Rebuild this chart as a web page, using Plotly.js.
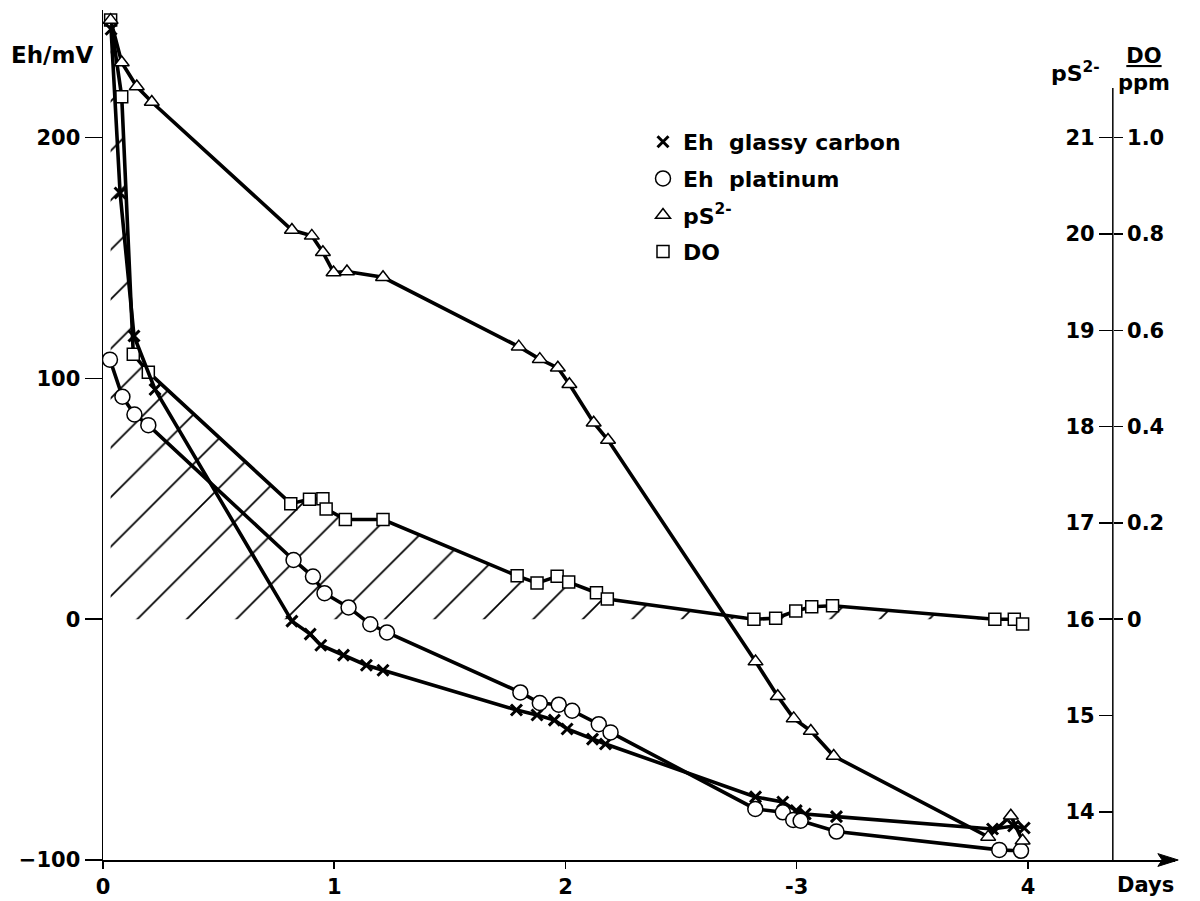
<!DOCTYPE html>
<html>
<head>
<meta charset="utf-8">
<script src="https://cdn.plot.ly/plotly-3.0.1.min.js"></script>
<style>html,body{margin:0;padding:0;background:#fff;}#chart{width:1200px;height:901px;}</style>
</head>
<body>
<div id="chart"></div>
<script>
// ---- data ----
const glassyDays = [0.035, 0.074, 0.134, 0.225, 0.817, 0.896, 0.942, 1.040, 1.139, 1.211, 1.788, 1.877, 1.952, 2.007, 2.117, 2.173, 2.822, 2.940, 2.998, 3.037, 3.172, 3.847, 3.938, 3.984];
const glassyEh   = [245, 177, 117.6, 95.4, -0.8, -6.2, -10.8, -14.9, -19.1, -21.2, -37.7, -39.8, -41.9, -45.6, -49.8, -51.8, -73.8, -75.9, -79.5, -80.9, -82.0, -87.1, -85.9, -86.7];

const platDays = [0.030, 0.084, 0.136, 0.196, 0.824, 0.908, 0.958, 1.062, 1.156, 1.228, 1.805, 1.889, 1.971, 2.029, 2.144, 2.195, 2.821, 2.940, 2.985, 3.017, 3.172, 3.876, 3.970];
const platEh   = [107.8, 92.4, 85.0, 80.6, 24.6, 17.7, 10.8, 4.9, -2.1, -5.5, -30.4, -34.8, -35.5, -38.0, -43.6, -47.0, -78.8, -80.2, -83.4, -83.7, -88.2, -95.8, -96.2];

const psDays = [0.033, 0.081, 0.146, 0.211, 0.817, 0.903, 0.951, 0.997, 1.055, 1.211, 1.798, 1.889, 1.967, 2.017, 2.122, 2.184, 2.822, 2.918, 2.987, 3.061, 3.160, 3.828, 3.926, 3.977];
const psVals = [22.22, 21.78, 21.53, 21.37, 20.04, 19.98, 19.81, 19.60, 19.61, 19.55, 18.83, 18.70, 18.61, 18.44, 18.04, 17.86, 15.56, 15.20, 14.97, 14.84, 14.58, 13.74, 13.96, 13.70];

const doDays = [0.033, 0.081, 0.131, 0.196, 0.812, 0.893, 0.951, 0.965, 1.048, 1.211, 1.791, 1.877, 1.964, 2.014, 2.134, 2.181, 2.815, 2.909, 2.996, 3.065, 3.155, 3.857, 3.941, 3.977];
const doVals = [1.244, 1.085, 0.550, 0.513, 0.240, 0.249, 0.250, 0.229, 0.207, 0.207, 0.090, 0.075, 0.089, 0.077, 0.055, 0.042, 0.0, 0.002, 0.017, 0.026, 0.028, 0.0, 0.0, -0.01];

const xTickVals = [0, 1, 2, 3, 4];
const xTickText = ['0', '1', '2', '-3', '4'];
const ehTicks = [-100, 0, 100, 200];
const psTicks = [14, 15, 16, 17, 18, 19, 20, 21];
const doTicks = [0, 0.2, 0.4, 0.6, 0.8, 1.0];
const doTickText = ['0', '0.2', '0.4', '0.6', '0.8', '1.0'];

const seriesNames = ['Eh\u00a0 glassy carbon', 'Eh\u00a0 platinum', 'pS<sup>2-</sup>', 'DO'];

// ---- styling ----
const FONT = 'DejaVu Sans';
const LW = 3.6;
const black = '#000';

const traces = [
  { x: doDays, y: doVals, yaxis: 'y', mode: 'lines', line: {color: black, width: LW},
    fill: 'tozeroy', fillcolor: 'rgba(0,0,0,0)',
    fillpattern: {shape: '/', size: 35, solidity: 0.05, fgcolor: black, bgcolor: 'rgba(0,0,0,0)', fillmode: 'replace'},
    showlegend: false, hoverinfo: 'skip' },
  { x: doDays, y: doVals, yaxis: 'y', mode: 'markers', name: seriesNames[3], legendrank: 4, legendgroup: 'd',
    marker: {symbol: 'square', size: 12, color: '#fff', line: {color: black, width: 1.5}} },
  { x: glassyDays, y: glassyEh, yaxis: 'y2', mode: 'lines', line: {color: black, width: LW}, showlegend: false },
  { x: platDays, y: platEh, yaxis: 'y2', mode: 'lines', line: {color: black, width: LW}, showlegend: false },
  { x: glassyDays, y: glassyEh, yaxis: 'y2', mode: 'markers', name: seriesNames[0], legendrank: 1, legendgroup: 'a',
    marker: {symbol: 'x-thin', size: 11, color: black, line: {color: black, width: 3}} },
  { x: platDays, y: platEh, yaxis: 'y2', mode: 'markers', name: seriesNames[1], legendrank: 2, legendgroup: 'b',
    marker: {symbol: 'circle', size: 15, color: '#fff', line: {color: black, width: 1.5}} },
  { x: psDays, y: psVals, yaxis: 'y3', mode: 'lines', line: {color: black, width: LW}, showlegend: false },
  { x: psDays, y: psVals, yaxis: 'y3', mode: 'markers', name: seriesNames[2], legendrank: 3, legendgroup: 'c',
    marker: {symbol: 'triangle-up', size: 13, color: '#fff', line: {color: black, width: 1.5}} }
];

const tickFont = {family: FONT, size: 21, color: black, weight: 'bold'};
const W = 1072, H = 850, L = 103, B = 41;
const px = v => (v - L) / W;
const py = v => (901 - B - v) / H;

const layout = {
  width: 1200, height: 901,
  margin: {l: L, r: 25, t: 10, b: B},
  paper_bgcolor: '#fff', plot_bgcolor: '#fff',
  font: {family: FONT, color: black},
  showlegend: true,
  legend: {x: px(643), y: py(121), xanchor: 'left', yanchor: 'top', bgcolor: 'rgba(0,0,0,0)',
           font: {family: FONT, size: 22, color: black, weight: 'bold'}, tracegroupgap: 5, itemwidth: 30},
  xaxis: {range: [0, 4.636], showline: true, linecolor: black, linewidth: 1.5, showgrid: false, zeroline: false,
          ticks: 'outside', ticklen: 7, tickwidth: 1.5, tickcolor: black,
          tickvals: xTickVals, ticktext: xTickText, tickfont: tickFont, anchor: 'y'},
  yaxis: {range: [-0.5, 1.265], anchor: 'free', position: 0.942, side: 'right', showline: false,
          showgrid: false, zeroline: false, ticks: 'outside', ticklen: 9, tickwidth: 1.5, tickcolor: black,
          tickvals: doTicks, ticktext: doTickText, tickfont: tickFont},
  yaxis2: {range: [-100, 253], overlaying: 'y', anchor: 'x', side: 'left', showline: true, linecolor: black,
           linewidth: 1.5, showgrid: false, zeroline: false, ticks: 'outside', ticklen: 17, tickwidth: 1.5,
           tickcolor: black, tickvals: ehTicks, tickfont: tickFont},
  yaxis3: {range: [13.5, 22.325], overlaying: 'y', anchor: 'free', position: 0.942, side: 'left', showline: false,
           showgrid: false, zeroline: false, ticks: 'outside', ticklen: 14, tickwidth: 1.5, tickcolor: black,
           tickvals: psTicks, tickfont: tickFont},
  shapes: [
    {type: 'line', xref: 'paper', yref: 'paper', x0: 0.942, x1: 0.942, y0: 0, y1: py(88), line: {color: black, width: 1.5}},
    {type: 'path', xref: 'paper', yref: 'paper', path: 'M 1.003 0 L 0.984 0.0075 L 0.988 0 L 0.984 -0.0075 Z',
     fillcolor: black, line: {color: black, width: 1}}
  ],
  annotations: [
    {xref: 'paper', yref: 'paper', x: px(52), y: py(55), text: 'Eh/mV', showarrow: false, xanchor: 'center', yanchor: 'middle',
     font: {family: FONT, size: 23, color: black, weight: 'bold'}},
    {xref: 'paper', yref: 'paper', x: px(1102), y: py(72), text: 'pS<sup>2-</sup>', showarrow: false, xanchor: 'right', yanchor: 'middle',
     font: {family: FONT, size: 22, color: black, weight: 'bold'}},
    {xref: 'paper', yref: 'paper', x: px(1116), y: py(70), text: '<u>DO</u><br>ppm', showarrow: false, xanchor: 'left', yanchor: 'middle',
     font: {family: FONT, size: 21, color: black, weight: 'bold'}},
    {xref: 'paper', yref: 'paper', x: px(1145), y: py(885), text: 'Days', showarrow: false, xanchor: 'center', yanchor: 'middle',
     font: {family: FONT, size: 21, color: black, weight: 'bold'}}
  ]
};

Plotly.newPlot('chart', traces, layout, {displayModeBar: false, staticPlot: true});
</script>
</body>
</html>
